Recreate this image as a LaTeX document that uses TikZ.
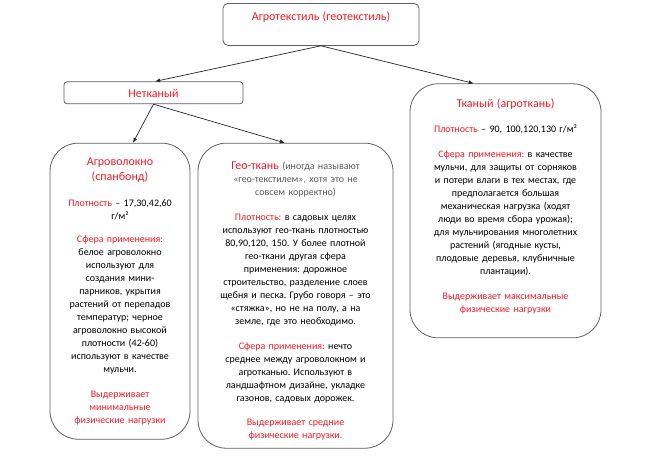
\documentclass[tikz,border=0pt]{standalone}
\usepackage{fontspec}
\setmainfont{Carlito}
\usetikzlibrary{arrows.meta}
\definecolor{headred}{RGB}{245,25,35}
\definecolor{framegray}{RGB}{95,95,95}
\definecolor{softgray}{RGB}{90,90,90}
\newcommand{\rd}[1]{\textcolor{headred}{#1}}
\newcommand{\hd}[1]{{\fontsize{12}{13}\selectfont\color{headred}#1}}
\frenchspacing
\begin{document}
\begin{tikzpicture}[x=1pt, y=-1pt,
  box/.style={draw=framegray, line width=0.8pt, anchor=north, inner xsep=0pt, inner ysep=0pt,
    align=center, font=\fontsize{10}{13}\selectfont},
  card/.style={box, rounded corners=28pt},
  level 1/.style={sibling distance=352pt, level distance=57pt},
  level 2/.style={sibling distance=175.5pt, level distance=50pt},
  edge from parent/.style={draw=black!85, line width=0.7pt, -{Latex[length=5pt,width=4pt]}},
  parent anchor=south]
\useasboundingbox (0,0) rectangle (650,458);
\node [box, rounded corners=5pt, text width=196pt, text height=17.5pt, text depth=24.5pt] (agrotex) at (321,3)
  {\hd{Агротекстиль (геотекстиль)}}
  child[xshift=8.5pt, child anchor=82] {
    node [box, rounded corners=3pt, text width=179pt, text height=16pt, text depth=6pt] (nonwoven) {\hd{Нетканый}}
    child[xshift=54.25pt, child anchor=85.4] {
      node [card, text width=140pt, text height=22.5pt, text depth=273.5pt] (fibre) {%
        \hd{Агроволокно}\\[2pt]
        \hd{(спанбонд)}\\[13pt]
        \rd{Плотность} – 17,30,42,60\\
        г/м²\\[10pt]
        \rd{Сфера применения:}\\
        белое агроволокно\\
        используют для\\
        создания мини-\\
        парников, укрытия\\
        растений от перепадов\\
        температур; черное\\
        агроволокно высокой\\
        плотности (42-60)\\
        используют в качестве\\
        мульчи.\\[12pt]
        \rd{Выдерживает}\\
        \rd{минимальные}\\
        \rd{физические нагрузки}}
    }
    child[xshift=54.25pt, child anchor=94.7] {
      node [card, text width=195pt, text height=26pt, text depth=279pt] (geocloth) {%
        \hd{Гео-ткань} {\color{softgray}(иногда называют\\
        «гео-текстилем», хотя это не\\
        совсем корректно)}\\[12pt]
        \rd{Плотность:} в садовых целях\\
        используют гео-ткань плотностью\\
        80,90,120, 150. У более плотной\\
        гео-ткани другая сфера\\
        применения: дорожное\\
        строительство, разделение слоев\\
        щебня и песка. Грубо говоря – это\\
        «стяжка», но не на полу, а на\\
        земле, где это необходимо.\\[12pt]
        \rd{Сфера применения:} нечто\\
        среднее между агроволокном и\\
        агротканью. Используют в\\
        ландшафтном дизайне, укладке\\
        газонов, садовых дорожек.\\[11pt]
        \rd{Выдерживает средние}\\
        \rd{физические нагрузки.}}
    }
  }
  child[xshift=8.5pt, yshift=-2pt, child anchor=104.35] {
    node [card, text width=191pt, text height=23.5pt, text depth=230.5pt] (woven) {%
      \hd{Тканый (агроткань)}\\[12pt]
      \rd{Плотность} – 90, 100,120,130 г/м²\\[12pt]
      \rd{Сфера применения:} в качестве\\
      мульчи, для защиты от сорняков\\
      и потери влаги в тех местах, где\\
      предполагается большая\\
      механическая нагрузка (ходят\\
      люди во время сбора урожая);\\
      для мульчирования многолетних\\
      растений (ягодные кусты,\\
      плодовые деревья, клубничные\\
      плантации).\\[12pt]
      \rd{Выдерживает максимальные}\\
      \rd{физические нагрузки}}
  };
\end{tikzpicture}
\end{document}
